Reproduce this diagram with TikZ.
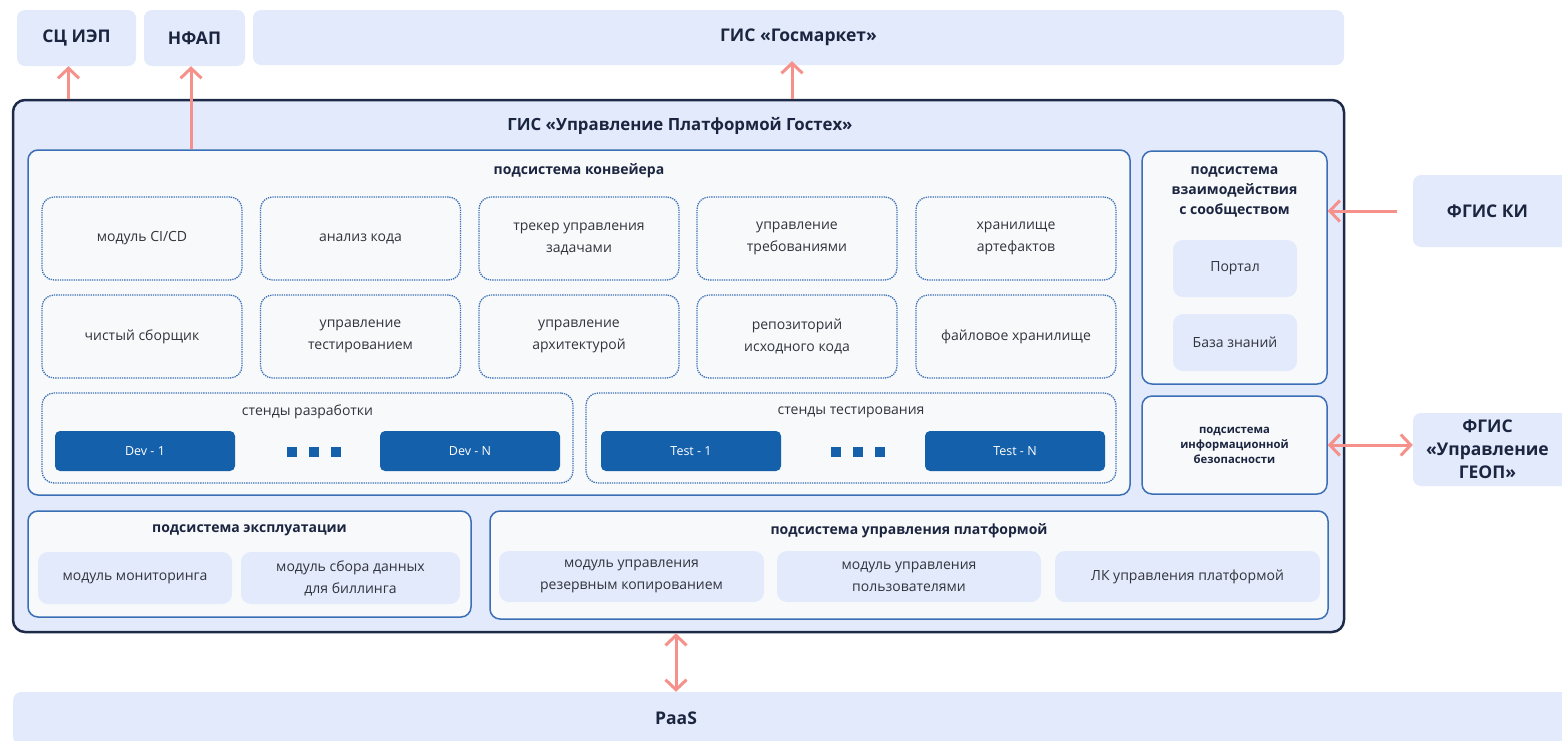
\documentclass[tikz,border=0pt]{standalone}
\usepackage{fontspec}
\setmainfont{Open Sans}
\usetikzlibrary{arrows.meta,positioning}

\definecolor{paleblue}{HTML}{E3EAFB}
\definecolor{offwhite}{HTML}{F8F9FB}
\definecolor{framenavy}{HTML}{1E2B48}
\definecolor{edgeblue}{HTML}{3A6FB5}
\definecolor{standblue}{HTML}{1560AB}
\definecolor{linkred}{HTML}{F5908A}
\definecolor{inktext}{HTML}{1B2540}
\definecolor{greytext}{HTML}{30343C}

\begin{document}
\begin{tikzpicture}[x=1pt,y=-1pt]
   \tikzstyle{every node}=[font=\fontsize{14}{22}\selectfont, text=greytext, align=center, inner sep=0pt]
   \tikzstyle{outer}=[fill=paleblue, rounded corners=8pt, text=inktext, font=\bfseries\fontsize{17.5}{23}\selectfont]
   \tikzstyle{mainframe}=[draw=framenavy, line width=2.5pt, fill=paleblue, rounded corners=12pt]
   \tikzstyle{subsys}=[draw=edgeblue, line width=1.5pt, fill=offwhite, rounded corners=10pt]
   \tikzstyle{module}=[draw=edgeblue, densely dotted, line width=1.3pt, rounded corners=12pt, minimum width=200pt, minimum height=83pt]
   \tikzstyle{standbox}=[fill=standblue, rounded corners=5pt, text=white, minimum width=180pt, minimum height=40pt, font=\fontsize{12.5}{14}\selectfont]
   \tikzstyle{dotsq}=[fill=standblue, minimum size=10pt]
   \tikzstyle{item}=[fill=paleblue, rounded corners=10pt]
   \tikzstyle{title}=[text=inktext, font=\bfseries\fontsize{14}{20}\selectfont]
   \tikzstyle{link}=[draw=linkred, line width=3pt, -{Straight Barb[length=10pt,width=21pt]}]
   \tikzstyle{linkboth}=[draw=linkred, line width=3pt, {Straight Barb[length=10pt,width=21pt]}-{Straight Barb[length=10pt,width=21pt]}]

\useasboundingbox (0,0) rectangle (1562,740);

\node[outer, minimum width=119pt, minimum height=56pt] (sciep) at (76.5,38) {СЦ ИЭП};
\node[outer, minimum width=101pt, minimum height=56pt] (nfap) at (194.5,38) {НФАП};
\node[outer, minimum width=1091pt, minimum height=55pt] (gosmarket) at (798.5,37.5) {ГИС «Госмаркет»};

\node[mainframe, minimum width=1331pt, minimum height=532pt] (main) at (678.5,366) {};
\node[title, font=\bfseries\fontsize{16.8}{20}\selectfont] (maintitle) at (680,126) {ГИС «Управление Платформой Гостех»};

\node[subsys, minimum width=1102pt, minimum height=345pt] (conv) at (579,322.5) {};
\node[title] (convtitle) at (579,171) {подсистема конвейера};

\node[module] (cicd) at (142,238.5) {модуль CI/CD};
\node[module] (analysis) at (360.5,238.5) {анализ кода};
\node[module] (tracker) at (579,238.5) {трекер управления\\задачами};
\node[module] (reqs) at (797,238.5) {управление\\требованиями};
\node[module] (artifacts) at (1016,238.5) {хранилище\\артефактов};
\node[module] (builder) at (142,336.5) {чистый сборщик};
\node[module] (testing) at (360.5,336.5) {управление\\тестированием};
\node[module] (arch) at (579,336.5) {управление\\архитектурой};
\node[module] (repo) at (797,336.5) {репозиторий\\исходного кода};
\node[module] (files) at (1016,336.5) {файловое хранилище};

\node[module, minimum width=531pt, minimum height=90pt] (devstands) at (307.5,438) {};
\node (devtitle) at (307.5,412) {стенды разработки};
\node[standbox] (dev1) at (145,451) {Dev - 1};
\node[standbox] (devn) at (470,451) {Dev - N};
\node[dotsq] (devdot1) at (292,452) {};
\node[dotsq] (devdot2) at (314,452) {};
\node[dotsq] (devdot3) at (336,452) {};

\node[module, minimum width=530pt, minimum height=90pt] (teststands) at (851,438) {};
\node (testtitle) at (851,412) {стенды тестирования};
\node[standbox] (test1) at (691,451) {Test - 1};
\node[standbox] (testn) at (1015,451) {Test - N};
\node[dotsq] (testdot1) at (836,452) {};
\node[dotsq] (testdot2) at (858,452) {};
\node[dotsq] (testdot3) at (880,452) {};

\node[subsys, minimum width=185pt, minimum height=233pt] (comm) at (1234.5,267.5) {};
\node[title] (commtitle) at (1234.5,192) {подсистема\\взаимодействия\\с сообществом};
\node[item, minimum width=124pt, minimum height=57pt] (portal) at (1235,268.5) {Портал};
\node[item, minimum width=124pt, minimum height=57pt] (kb) at (1235,342.5) {База знаний};

\node[subsys, minimum width=185pt, minimum height=98pt, title, font=\bfseries\fontsize{11.3}{15}\selectfont] (infosec) at (1234.5,445) {подсистема\\информационной\\безопасности};

\node[outer, minimum width=162pt, minimum height=72pt] (fgiski) at (1494,211) {\hspace*{-13pt}ФГИС КИ};
\node[outer, minimum width=162pt, minimum height=73pt] (geop) at (1494,449.5) {\hspace*{-13pt}ФГИС\\\hspace*{-13pt}«Управление\\\hspace*{-13pt}ГЕОП»};

\node[subsys, minimum width=443pt, minimum height=106pt] (ops) at (249.5,564) {};
\node[title] (opstitle) at (249.5,530) {подсистема эксплуатации};
\node[item, minimum width=194pt, minimum height=52pt] (monitoring) at (135,578) {модуль мониторинга};
\node[item, minimum width=219pt, minimum height=52pt] (billing) at (350.5,578) {модуль сбора данных\\для биллинга};

\node[subsys, minimum width=838pt, minimum height=108pt] (platform) at (909,565) {};
\node[title] (platformtitle) at (909,531) {подсистема управления платформой};
\node[item, minimum width=265pt, minimum height=51pt] (backup) at (631.5,576.5) {модуль управления\\резервным копированием};
\node[item, minimum width=264pt, minimum height=51pt] (users) at (909,576.5) {модуль управления\\пользователями};
\node[item, minimum width=265pt, minimum height=51pt] (lk) at (1187.5,576.5) {ЛК управления платформой};

\node[outer, minimum width=1562pt, minimum height=53pt, anchor=west] (paas) at (13,718.5) {};
\node[title, font=\bfseries\fontsize{17.5}{20}\selectfont] (paaslabel) at (676,718.5) {PaaS};

\draw[link] ([xshift=-8pt]sciep.south |- main.north) -- ([xshift=-8pt]sciep.south);
\draw[link] ([xshift=-3.5pt]nfap.south |- conv.north) -- ([xshift=-3.5pt]nfap.south);
\draw[link] ([xshift=-6.5pt]gosmarket.south |- main.north) -- ([xshift=-6.5pt,yshift=4pt]gosmarket.south);
\draw[link] ([xshift=-16pt]fgiski.west) -- (fgiski.west -| comm.east);
\draw[linkboth] (infosec.east) -- (infosec.east -| geop.west);
\draw[linkboth] (paaslabel |- main.south) -- (paaslabel |- paas.north);

\end{tikzpicture}
\end{document}
